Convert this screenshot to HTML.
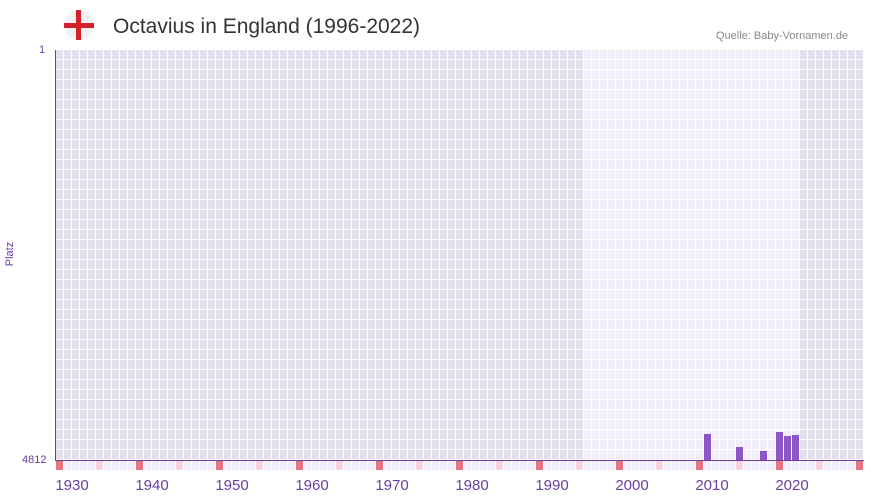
<!DOCTYPE html>
<html><head><meta charset="utf-8"><style>
body{margin:0;width:873px;height:502px;background:#fff;font-family:"Liberation Sans",sans-serif;position:relative;overflow:hidden}
.a{position:absolute}
.grid{background-image:linear-gradient(to bottom,transparent 9px,#fff 9px,#fff 10px),linear-gradient(to right,transparent 7px,#fff 7px);background-size:8px 10px,8px 10px}
.bar{position:absolute;background:#8e55c7;width:7px;bottom:42px}
.yl{position:absolute;top:477px;font-size:15px;color:#6a3fa0;width:50px;text-align:center}
.m{position:absolute;top:461px;width:7px;height:9px}
</style></head><body>
<div class="a" style="left:64px;top:10px;width:30px;height:30px;border-radius:50%;background:#f2f2f2"></div>
<div class="a" style="left:76px;top:10px;width:5px;height:30px;background:#d4222a"></div>
<div class="a" style="left:64px;top:23px;width:30px;height:5px;background:#d4222a"></div>
<div class="a" style="left:113px;top:15px;font-size:21px;color:#333">Octavius in England (1996-2022)</div>
<div class="a" style="left:716px;top:30px;font-size:11px;color:#888">Quelle: Baby-Vornamen.de</div>
<div class="a" style="left:39px;top:44px;font-size:11px;color:#6a3fa0">1</div>
<div class="a" style="left:22px;top:454px;font-size:11px;color:#6a3fa0">4812</div>
<div class="a" style="left:-2px;top:248px;font-size:11px;color:#6a3fa0;transform:rotate(-90deg)">Platz</div>
<div class="a" style="left:56px;top:50px;width:528px;height:410px;background-color:#e3dfec"></div>
<div class="a" style="left:584px;top:50px;width:216px;height:410px;background-color:#f1eef9"></div>
<div class="a" style="left:800px;top:50px;width:64px;height:410px;background-color:#e3dfec"></div>
<div class="a grid" style="left:56px;top:50px;width:808px;height:410px"></div>
<div class="a" style="left:56px;top:461px;width:808px;height:9px;background:#f1edfb;background-image:linear-gradient(to right,transparent 7px,#fff 7px);background-size:8px 9px"></div>
<div class="a" style="left:55px;top:50px;width:1px;height:411px;background:#6a3fa0"></div>
<div class="a" style="left:55px;top:460px;width:809px;height:1px;background:#6a3fa0"></div>
<div class="m" style="left:56px;background:#e57580"></div><div class="m" style="left:96px;background:#f5d5dd"></div>
<div class="m" style="left:136px;background:#e57580"></div><div class="m" style="left:176px;background:#f5d5dd"></div>
<div class="m" style="left:216px;background:#e57580"></div><div class="m" style="left:256px;background:#f5d5dd"></div>
<div class="m" style="left:296px;background:#e57580"></div><div class="m" style="left:336px;background:#f5d5dd"></div>
<div class="m" style="left:376px;background:#e57580"></div><div class="m" style="left:416px;background:#f5d5dd"></div>
<div class="m" style="left:456px;background:#e57580"></div><div class="m" style="left:496px;background:#f5d5dd"></div>
<div class="m" style="left:536px;background:#e57580"></div><div class="m" style="left:576px;background:#f5d5dd"></div>
<div class="m" style="left:616px;background:#e57580"></div><div class="m" style="left:656px;background:#f5d5dd"></div>
<div class="m" style="left:696px;background:#e57580"></div><div class="m" style="left:736px;background:#f5d5dd"></div>
<div class="m" style="left:776px;background:#e57580"></div><div class="m" style="left:816px;background:#f5d5dd"></div>
<div class="m" style="left:856px;background:#e57580"></div>
<div class="bar" style="left:704px;top:434px"></div>
<div class="bar" style="left:736px;top:447px"></div>
<div class="bar" style="left:760px;top:451px"></div>
<div class="bar" style="left:776px;top:432px"></div>
<div class="bar" style="left:784px;top:436px"></div>
<div class="bar" style="left:792px;top:435px"></div>
<div class="yl" style="left:47px">1930</div><div class="yl" style="left:127px">1940</div>
<div class="yl" style="left:207px">1950</div><div class="yl" style="left:287px">1960</div>
<div class="yl" style="left:367px">1970</div><div class="yl" style="left:447px">1980</div>
<div class="yl" style="left:527px">1990</div><div class="yl" style="left:607px">2000</div>
<div class="yl" style="left:687px">2010</div><div class="yl" style="left:767px">2020</div>
</body></html>
